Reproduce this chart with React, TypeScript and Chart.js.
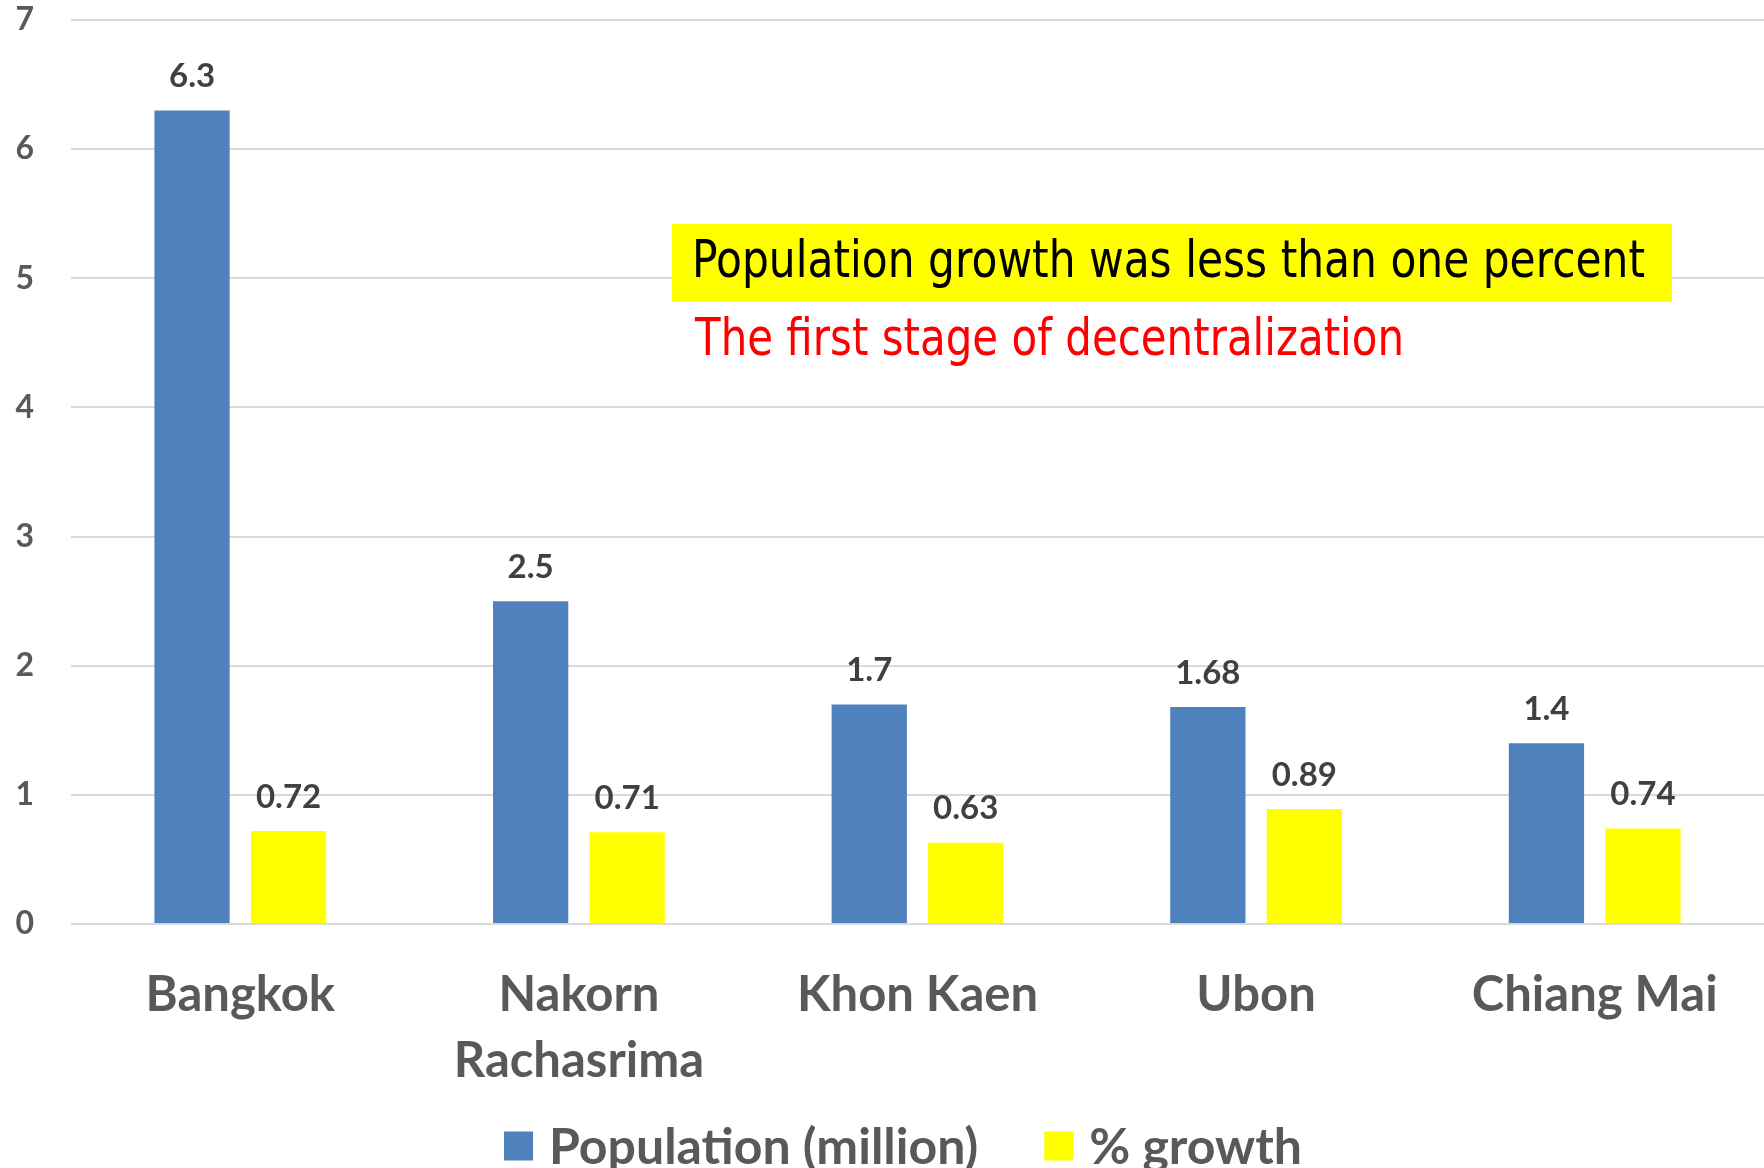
import React, { useEffect, useRef } from "react";
import { Chart, registerables } from "chart.js";

Chart.register(...registerables);

const categories: (string | string[])[] = ["Bangkok", ["Nakorn", "Rachasrima"], "Khon Kaen", "Ubon", "Chiang Mai"];
const populationMillion = [6.3, 2.5, 1.7, 1.68, 1.4];
const growthPercent = [0.72, 0.71, 0.63, 0.89, 0.74];
const yTicks = [0, 1, 2, 3, 4, 5, 6, 7];
const seriesLabels = ["Population (million)", "% growth"];
const seriesColors = ["#4F81BD", "#FFFF00"];
const noteLine1 = "Population growth was less than one percent";
const noteLine2 = "The first stage of decentralization";

const W = 1764;
const H = 1168;
const CAL = "Lato, 'Open Sans', sans-serif";

const dataLabelPlugin = {
  id: "dataLabels",
  afterDatasetsDraw(chart: any) {
    const ctx = chart.ctx;
    ctx.save();
    ctx.font = `bold 33px ${CAL}`;
    ctx.fillStyle = "#404040";
    ctx.textAlign = "center";
    ctx.textBaseline = "middle";
    chart.data.datasets.forEach((ds: any, i: number) => {
      const meta = chart.getDatasetMeta(i);
      meta.data.forEach((el: any, j: number) => {
        ctx.fillText(String(ds.data[j]), el.x, el.y - 34);
      });
    });
    ctx.restore();
  },
};

const legendPlugin = {
  id: "customLegend",
  afterDraw(chart: any) {
    const ctx = chart.ctx;
    ctx.save();
    ctx.font = `bold 50px ${CAL}`;
    ctx.textBaseline = "middle";
    ctx.textAlign = "left";
    const box = 29;
    const gap = 16;
    const spacing = 66;
    const items = chart.data.datasets.map((ds: any) => ({
      label: ds.label,
      color: ds.backgroundColor,
      w: ctx.measureText(ds.label).width,
    }));
    let total = 0;
    items.forEach((it: any, i: number) => {
      total += box + gap + it.w + (i < items.length - 1 ? spacing : 0);
    });
    let x = 903 - total / 2;
    const cy = 1146;
    items.forEach((it: any) => {
      ctx.fillStyle = it.color;
      ctx.fillRect(x, cy - box / 2, box, box);
      x += box + gap;
      ctx.fillStyle = "#595959";
      ctx.fillText(it.label, x, cy + 2);
      x += it.w + spacing;
    });
    ctx.restore();
  },
};

function drawScaledText(ctx: any, text: string, x: number, y: number, targetW: number, font: string, color: string) {
  ctx.save();
  ctx.font = font;
  ctx.fillStyle = color;
  ctx.textAlign = "left";
  ctx.textBaseline = "middle";
  const w = ctx.measureText(text).width;
  const s = targetW / w;
  ctx.translate(x, y);
  ctx.scale(s, 1);
  ctx.fillText(text, 0, 0);
  ctx.restore();
}

const notePlugin = {
  id: "note",
  afterDraw(chart: any) {
    const ctx = chart.ctx;
    ctx.save();
    ctx.fillStyle = "#FFFF00";
    ctx.fillRect(672, 224, 1000, 78);
    ctx.restore();
    drawScaledText(ctx, noteLine1, 692, 264, 953, "51px 'DejaVu Sans', sans-serif", "#000000");
    drawScaledText(ctx, noteLine2, 695, 342, 709, "51px 'DejaVu Sans', sans-serif", "#FF0000");
  },
};

export default function App() {
  const ref = useRef<HTMLCanvasElement | null>(null);
  useEffect(() => {
    if (!ref.current) return;
    const chart = new Chart(ref.current, {
      type: "bar",
      data: {
        labels: categories as any,
        datasets: [
          {
            label: seriesLabels[0],
            data: populationMillion,
            backgroundColor: seriesColors[0],
            categoryPercentage: 0.57,
            barPercentage: 0.78,
          },
          {
            label: seriesLabels[1],
            data: growthPercent,
            backgroundColor: seriesColors[1],
            categoryPercentage: 0.57,
            barPercentage: 0.78,
          },
        ],
      },
      options: {
        animation: false,
        responsive: false,
        maintainAspectRatio: false,
        layout: { padding: { top: 20, right: 0, bottom: 0, left: 0 } },
        plugins: {
          legend: { display: false },
          tooltip: { enabled: false },
        },
        scales: {
          x: {
            grid: { display: false, drawTicks: false },
            border: { display: false },
            ticks: {
              color: "#595959",
              font: { family: CAL, size: 49, weight: "bold", lineHeight: 1.33 },
              padding: 39,
              maxRotation: 0,
              autoSkip: false,
            },
            afterFit(scale: any) {
              scale.height = H - 924;
              scale.paddingLeft = 0;
              scale.paddingRight = 0;
            },
          },
          y: {
            min: 0,
            max: 7,
            afterBuildTicks(scale: any) {
              scale.ticks = yTicks.map((v) => ({ value: v }));
            },
            grid: { color: "#D9D9D9", lineWidth: 2, drawTicks: false },
            border: { display: false },
            ticks: {
              color: "#595959",
              font: { family: CAL, size: 32, weight: "bold" },
              padding: 37,
            },
            afterFit(scale: any) {
              scale.width = 71;
              scale.paddingTop = 0;
              scale.paddingBottom = 0;
            },
          },
        },
      },
      plugins: [dataLabelPlugin, legendPlugin, notePlugin],
    });
    return () => chart.destroy();
  }, []);
  return (
    <div style={{ position: "fixed", left: 0, top: 0, width: W, height: H, background: "#fff" }}>
      <canvas ref={ref} width={W} height={H} style={{ width: W, height: H, display: "block" }} />
    </div>
  );
}
